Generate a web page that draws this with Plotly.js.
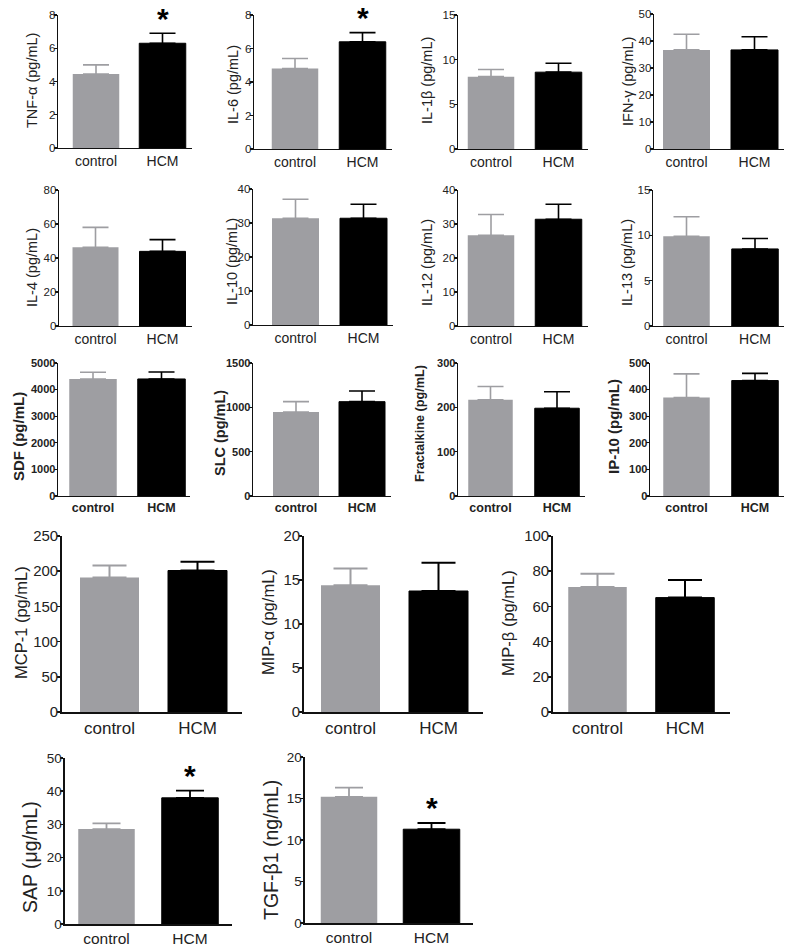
<!DOCTYPE html>
<html><head><meta charset="utf-8">
<script src="https://cdn.plot.ly/plotly-3.0.1.min.js"></script>
<style>html,body{margin:0;padding:0;background:#fff}#chart{width:796px;height:949px}</style>
</head><body><div id="chart"></div>
<script>
// ---------- DATA ----------
const categories = ['control', 'HCM'];
const yTitles = ['TNF-α (pg/mL)', 'IL-6 (pg/mL)', 'IL-1β (pg/mL)', 'IFN-γ (pg/mL)',
  'IL-4 (pg/mL)', 'IL-10 (pg/mL)', 'IL-12 (pg/mL)', 'IL-13 (pg/mL)',
  'SDF (pg/mL)', 'SLC (pg/mL)', 'Fractalkine (pg/mL)', 'IP-10 (pg/mL)',
  'MCP-1 (pg/mL)', 'MIP-α (pg/mL)', 'MIP-β (pg/mL)',
  'SAP (μg/mL)', 'TGF-β1 (ng/mL)'];
const controlMean = [4.45, 4.8, 8.1, 36.7, 46.3, 31.4, 26.7, 9.9, 4400, 947, 217, 370, 191, 14.4, 71, 28.6, 15.2];
const controlSEM  = [0.55, 0.6, 0.8, 5.8, 11.7, 5.6, 6.1, 2.15, 250, 117, 30, 89, 17, 1.9, 7.6, 1.7, 1.1];
const hcmMean     = [6.3, 6.4, 8.6, 36.7, 43.9, 31.4, 31.4, 8.5, 4400, 1064, 198, 434, 201, 13.75, 65, 38.0, 11.3];
const hcmSEM      = [0.6, 0.55, 1.0, 4.9, 6.9, 4.1, 4.4, 1.15, 260, 120, 37, 27, 12.5, 3.2, 10, 2.2, 0.75];
const yMax   = [8, 8, 15, 50, 80, 40, 40, 15, 5000, 1500, 300, 500, 250, 20, 100, 50, 20];
const yDtick = [2, 2, 5, 10, 20, 10, 10, 5, 1000, 500, 100, 100, 50, 5, 20, 10, 5];
const significant = [true, true, false, false, false, false, false, false, false, false, false, false, false, false, false, true, true];

// ---------- LAYOUT CONSTANTS (pixels) ----------
const W = 796, H = 949;
const panelRow = [0,0,0,0, 1,1,1,1, 2,2,2,2, 3,3,3, 4,4];
// [axL, axR, yTop, yBot, ctrlL, ctrlR, hcmL, hcmR, titleX, titleY, titleSize]
const boxes = [
  [58, 192, 15, 148, 73, 119, 139, 186, 32, 81, 14.5],
  [254, 392, 15, 149, 272, 318, 339, 386, 233, 85, 14.5],
  [458, 588, 15, 149, 468, 514, 535, 582, 427, 81, 14.5],
  [654, 784, 14, 149, 663, 710, 731, 778, 628, 82, 14.5],
  [59, 192, 190, 326, 73, 118, 139, 186, 32, 268, 14.5],
  [253, 393, 189, 325, 272, 319, 340, 387, 232, 262, 14.5],
  [458, 588, 190, 326, 468, 514, 535, 582, 427, 263, 14.5],
  [653, 784, 190, 326, 663, 710, 732, 778, 627, 263, 14.5],
  [58, 190, 363, 496, 68, 118, 139, 184, 19, 437, 15],
  [253, 391, 363, 496, 273, 319, 339, 385, 220, 433, 14.5],
  [458, 585, 363, 496, 468, 513, 535, 579, 420, 423, 12.7],
  [650, 784, 363, 496, 663, 710, 732, 778, 613, 427, 15],
  [62, 242, 536, 712, 80, 139, 168, 227, 21, 623, 16.5],
  [304, 483, 536, 712, 321, 380, 409, 468, 268, 622, 16.5],
  [553, 730, 536, 712, 568, 627, 656, 714, 508, 623, 16.5],
  [65, 232, 758, 924, 78, 135, 162, 218, 30, 857, 19.5],
  [305, 473, 757, 923, 321, 377, 403, 460, 271, 850, 19.5]
];
const FONT = 'Liberation Sans, Arial, sans-serif';
const rowStyle = [
  {tick: 11.5, cat: 14, bold: false, errW: 13, errT: 1.6, line: 1.4, so: -4},
  {tick: 11.5, cat: 14, bold: false, errW: 13, errT: 1.6, line: 1.4, so: -4},
  {tick: 11, cat: 12.5, bold: true, errW: 13, errT: 1.6, line: 1.4, so: -4},
  {tick: 15, cat: 17, bold: false, errW: 17, errT: 2, line: 1.8, so: -4},
  {tick: 13.5, cat: 15.5, bold: false, errW: 14, errT: 1.8, line: 1.6, so: -4}
];
const ctrlColor = '#9e9ea2';
const textColor = '#222222';

const traces = [];
const layout = {
  width: W, height: H,
  margin: {l: 0, r: 0, t: 0, b: 0},
  paper_bgcolor: '#fff', plot_bgcolor: '#fff',
  showlegend: false,
  font: {family: FONT, color: textColor},
  annotations: []
};

for (let i = 0; i < yTitles.length; i++) {
  const k = i + 1;
  const sfx = k === 1 ? '' : String(k);
  const [axL, axR, yTop, yBot, cL, cR, hL, hR, tX, tY, tS] = boxes[i];
  const st = rowStyle[panelRow[i]];
  const cC = (cL + cR) / 2, hC = (hL + hR) / 2;
  const u = hC - cC;
  const bw = ((cR - cL) + (hR - hL)) / 2 / u;
  const xr = [-(cC - axL) / u, 1 + (axR - hC) / u];
  const wrap = s => st.bold ? '<b>' + s + '</b>' : s;

  traces.push({
    type: 'bar', x: [0], y: [controlMean[i]], width: [bw],
    xaxis: 'x' + sfx, yaxis: 'y' + sfx,
    marker: {color: ctrlColor, line: {width: 0}},
    error_y: {type: 'data', symmetric: false, array: [controlSEM[i]], arrayminus: [0],
      color: ctrlColor, thickness: st.errT, width: st.errW},
    hoverinfo: 'skip'
  });
  traces.push({
    type: 'bar', x: [1], y: [hcmMean[i]], width: [bw],
    xaxis: 'x' + sfx, yaxis: 'y' + sfx,
    marker: {color: '#000', line: {width: 1, color: '#000'}},
    error_y: {type: 'data', symmetric: false, array: [hcmSEM[i]], arrayminus: [0],
      color: '#000', thickness: st.errT, width: st.errW},
    hoverinfo: 'skip'
  });

  layout['xaxis' + sfx] = {
    domain: [axL / W, axR / W], anchor: 'y' + sfx, range: xr,
    showline: true, linecolor: '#111', linewidth: st.line,
    showgrid: false, zeroline: false, ticks: '',
    tickmode: 'array', tickvals: [0, 1], ticktext: categories.map(wrap),
    tickfont: {family: FONT, size: st.cat, color: textColor},
    fixedrange: true
  };
  layout['yaxis' + sfx] = {
    domain: [1 - yBot / H, 1 - yTop / H], anchor: 'x' + sfx, range: [0, yMax[i]],
    showline: true, linecolor: '#111', linewidth: st.line,
    showgrid: false, zeroline: false, ticks: 'outside', ticklen: 3, tickwidth: st.line, tickcolor: '#111',
    ticklabelstandoff: st.so,
    tick0: 0, dtick: yDtick[i], tickformat: 'd',
    tickfont: {family: FONT, size: st.tick, color: textColor},
    fixedrange: true
  };
  if (st.bold) {
    layout['yaxis' + sfx].tickprefix = '<b>';
    layout['yaxis' + sfx].ticksuffix = '</b>';
  }
  layout.annotations.push({
    xref: 'paper', yref: 'paper', x: tX / W, y: 1 - tY / H,
    text: wrap(yTitles[i]), textangle: -90, showarrow: false,
    xanchor: 'center', yanchor: 'middle',
    font: {family: FONT, size: tS, color: textColor}
  });
  if (significant[i]) {
    layout.annotations.push({
      xref: 'x' + sfx, yref: 'y' + sfx, x: 1, y: hcmMean[i] + hcmSEM[i],
      text: '<b>*</b>', showarrow: false, xanchor: 'center', yanchor: 'middle',
      yshift: 15, font: {family: FONT, size: 30, color: '#000'}
    });
  }
}

Plotly.newPlot('chart', traces, layout, {staticPlot: true, displayModeBar: false});
</script>
</body></html>
